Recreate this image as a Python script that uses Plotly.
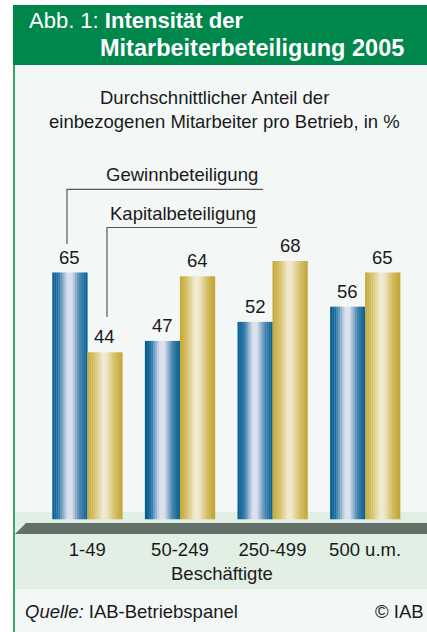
import plotly.graph_objects as go

categories = ["1-49", "50-249", "250-499", "500 u.m."]
gewinn = [65, 47, 52, 56]
kapital = [44, 64, 68, 65]
series_names = ["Gewinnbeteiligung", "Kapitalbeteiligung"]
x_title = "Beschäftigte"

W, H = 427, 632
FONT = "Liberation Sans, Arial, sans-serif"
FS = 18.5


def px(x):
    return x / W


def py(y):
    return 1 - y / H


def hex2rgb(h):
    h = h.lstrip("#")
    return tuple(int(h[i:i + 2], 16) for i in (0, 2, 4))


def interp(stops, t):
    for (t0, c0), (t1, c1) in zip(stops, stops[1:]):
        if t0 <= t <= t1:
            f = (t - t0) / (t1 - t0) if t1 > t0 else 0
            a, b = hex2rgb(c0), hex2rgb(c1)
            return "rgb(%d,%d,%d)" % tuple(round(a[i] + (b[i] - a[i]) * f) for i in range(3))
    return stops[-1][1]


blue_stops = [(0, "#005c90"), (0.18, "#2a75a5"), (0.42, "#d9dded"), (0.55, "#dfe2ee"),
              (0.78, "#4a86b0"), (1, "#005f92")]
gold_stops = [(0, "#c3a733"), (0.2, "#d6c068"), (0.45, "#f2ecd5"), (0.55, "#efe6c8"),
              (0.8, "#d2bb5e"), (1, "#c0a230")]

# axis geometry (plot area placed with domains, margins 0)
px_per_cat = 92.6
x0_px = 87.3
left_px = 15
xr = [-(x0_px - left_px) / px_per_cat, -(x0_px - left_px) / px_per_cat + (W - left_px) / px_per_cat]
bottom_px, top_px = 519.5, 160
px_per_unit = 3.8
yr = [0, (bottom_px - top_px) / px_per_unit]

BW = 35 / px_per_cat
N = 17
xs = list(range(len(categories)))

fig = go.Figure()
for vals, stops, start in [(gewinn, blue_stops, -BW), (kapital, gold_stops, 0)]:
    for k in range(N):
        t = (k + 0.5) / N
        fig.add_trace(go.Bar(
            x=xs, y=vals, width=BW / N + 0.003, offset=start + k * BW / N,
            marker=dict(color=interp(stops, t), line=dict(width=0)),
            showlegend=False, hoverinfo="skip"))

ann = []

# value labels
for vals, sgn in [(gewinn, -1), (kapital, 1)]:
    for i, v in zip(xs, vals):
        ann.append(dict(x=i + sgn * BW / 2, y=v, xref="x", yref="y", text=str(v),
                        showarrow=False, xanchor="center", yanchor="bottom", yshift=3,
                        font=dict(size=FS, color="#1a1a1a", family=FONT)))

shapes = []
# header
shapes.append(dict(type="rect", xref="paper", yref="paper", x0=px(13), x1=1, y0=py(65), y1=py(5),
                   fillcolor="#00874b", line=dict(width=0), layer="below"))
# panel
shapes.append(dict(type="rect", xref="paper", yref="paper", x0=px(15), x1=1, y0=0, y1=py(65),
                   fillcolor="#f3f7f6", line=dict(width=0), layer="below"))
# left border line
shapes.append(dict(type="rect", xref="paper", yref="paper", x0=px(13), x1=px(15), y0=0, y1=py(65),
                   fillcolor="#3aa56c", line=dict(width=0), layer="below"))
# floor band
shapes.append(dict(type="rect", xref="paper", yref="paper", x0=px(15), x1=1, y0=py(589), y1=py(512),
                   fillcolor="#e2efe5", line=dict(width=0), layer="below"))
# dark slab
shapes.append(dict(type="path", xref="paper", yref="paper",
                   path="M %f,%f L %f,%f L %f,%f L %f,%f Z" % (px(15), py(534), px(26), py(523),
                                                               px(427), py(523), px(427), py(534)),
                   fillcolor="#627068", line=dict(width=0), layer="below"))
# leader lines
lc = dict(color="#5a5a5a", width=1.2)
shapes.append(dict(type="path", xref="paper", yref="paper",
                   path="M %f,%f L %f,%f L %f,%f" % (px(67), py(244), px(67), py(189.3), px(263), py(189.3)),
                   line=lc))
shapes.append(dict(type="path", xref="paper", yref="paper",
                   path="M %f,%f L %f,%f L %f,%f" % (px(107), py(317), px(107), py(227.5), px(257), py(227.5)),
                   line=lc))


def add_text(text, x, y, xanchor="left", size=FS, color="#1a1a1a"):
    ann.append(dict(text=text, x=px(x), y=py(y), xref="paper", yref="paper", xanchor=xanchor,
                    yanchor="middle", showarrow=False, font=dict(size=size, color=color, family=FONT)))


add_text("Abb. 1: <b>Intensität der</b>", 27, 21, size=22, color="white")
add_text("<b>Mitarbeiterbeteiligung 2005</b>", 98, 48, size=23.5, color="white")
add_text("Durchschnittlicher Anteil der", 214, 97, xanchor="center")
add_text("einbezogenen Mitarbeiter pro Betrieb, in %", 224, 121, xanchor="center")
add_text(series_names[0], 260, 175, xanchor="right")
add_text(series_names[1], 258, 213, xanchor="right")
add_text(x_title, 222, 573, xanchor="center")
add_text("<i>Quelle:</i> IAB-Betriebspanel", 23, 611)
add_text("© IAB", 426, 611, xanchor="right")

fig.update_layout(
    width=W, height=H, margin=dict(l=0, r=0, t=0, b=0),
    paper_bgcolor="white", plot_bgcolor="rgba(0,0,0,0)",
    barmode="overlay", shapes=shapes, annotations=ann,
    font=dict(family=FONT, size=FS, color="#1a1a1a"),
    xaxis=dict(domain=[px(left_px), 1], range=xr, showgrid=False, zeroline=False, showline=False,
               tickvals=xs, ticktext=categories, ticks="", ticklabelstandoff=17,
               tickfont=dict(size=FS, color="#1a1a1a", family=FONT), fixedrange=True),
    yaxis=dict(domain=[py(bottom_px), py(top_px)], range=yr, visible=False, fixedrange=True),
)

fig.write_html("out.html", config={"displayModeBar": False},
               post_script="document.body.style.margin='0';document.body.style.overflow='hidden';")
